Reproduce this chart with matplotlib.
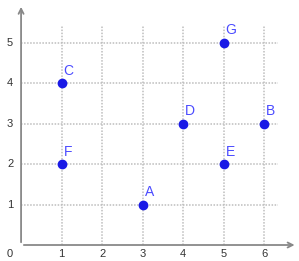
import matplotlib
matplotlib.use("Agg")
import matplotlib.pyplot as plt

# points on the grid
names = ["A", "B", "C", "D", "E", "F", "G"]
xs = [3, 6, 1, 4, 5, 1, 5]
ys = [1, 3, 4, 3, 2, 2, 5]

xticks = [1, 2, 3, 4, 5, 6]
yticks = [1, 2, 3, 4, 5]

plt.rcParams["font.family"] = ["Liberation Sans", "DejaVu Sans"]

fig = plt.figure(figsize=(2.99, 2.61), dpi=100)
ax = fig.add_axes([0, 0, 1, 1])
ax.set_xlim(-0.52, 6.86)
ax.set_ylim(-0.395, 6.05)
ax.axis("off")

# dotted grid
for x in xticks:
    ax.plot([x, x], [0, 5.43], color="#bdbdbd", lw=1.1, ls=(0, (1, 1)), zorder=1)
for y in yticks:
    ax.plot([0, 6.35], [y, y], color="#bdbdbd", lw=1.1, ls=(0, (1, 1)), zorder=1)

# axes with arrows
ax.annotate("", xy=(6.82, 0), xytext=(0, 0),
            arrowprops=dict(arrowstyle="->", color="#888888", lw=1.3, mutation_scale=9))
ax.annotate("", xy=(0, 5.95), xytext=(0, 0),
            arrowprops=dict(arrowstyle="->", color="#888888", lw=1.3, mutation_scale=9))

# tick labels
for x in xticks:
    ax.text(x, -0.22, str(x), ha="center", va="center", fontsize=8, color="#333333")
for y in yticks:
    ax.text(-0.27, y, str(y), ha="center", va="center", fontsize=8, color="#333333")
ax.text(-0.27, -0.22, "0", ha="center", va="center", fontsize=8, color="#333333")

# points and their labels
ax.plot(xs, ys, "o", color="#1a1ae6", markersize=6, zorder=3)
for n, x, y in zip(names, xs, ys):
    ax.text(x + 0.05, y + 0.13, n, ha="left", va="bottom", fontsize=10, color="#4b4bff")

fig.savefig("out.png", dpi=100)
